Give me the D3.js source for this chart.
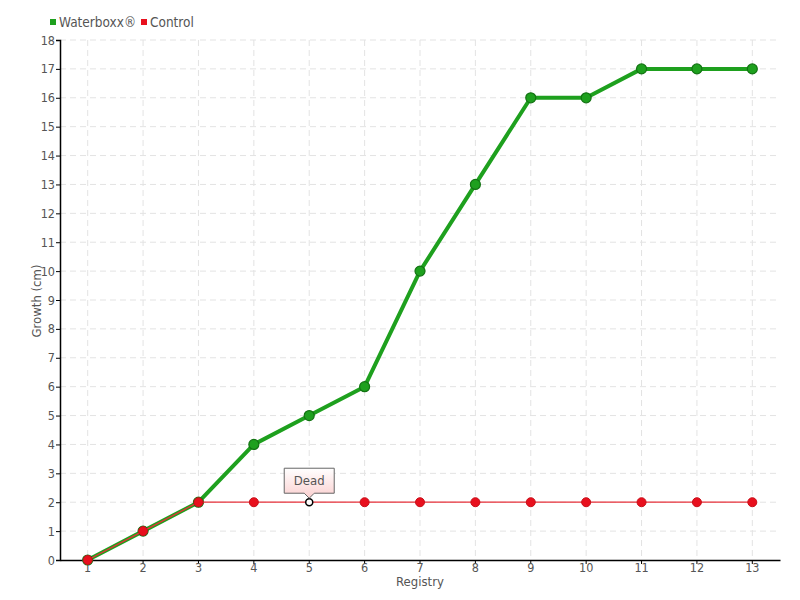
<!DOCTYPE html>
<html><head><meta charset="utf-8">
<script src="https://cdn.jsdelivr.net/npm/d3@7"></script>
<style>
body{margin:0;background:#fff;}
text{font-family:"DejaVu Sans Condensed","DejaVu Sans",sans-serif;fill:#555;}
</style></head>
<body><svg id="c" width="800" height="600"></svg>
<script>
const categories = ["1","2","3","4","5","6","7","8","9","10","11","12","13"];
const waterboxx = [0,1,2,4,5,6,10,13,16,16,17,17,17];
const control = [0,1,2,2,2,2,2,2,2,2,2,2,2];
const yTicks = d3.range(0,19);
const seriesNames = ["Waterboxx®","Control"];
const annotationIndex = 4;
const annotationText = "Dead";

const FF = "'DejaVu Sans Condensed','DejaVu Sans',sans-serif";
const svg = d3.select("#c");
const L=60,R=780,T=40,B=560;
const x = d3.scaleBand().domain(categories).range([L,R]);
const cx = d => x(d)+x.bandwidth()/2;
const y = d3.scaleLinear().domain([0,18]).range([B,T]);

// grid
svg.append("g").selectAll("line").data(yTicks.slice(1)).join("line")
 .attr("x1",L).attr("x2",R).attr("y1",d=>y(d)).attr("y2",d=>y(d))
 .attr("stroke","#e3e3e3").attr("stroke-dasharray","6,4");
svg.append("g").selectAll("line").data(categories).join("line")
 .attr("x1",d=>cx(d)).attr("x2",d=>cx(d)).attr("y1",T).attr("y2",B)
 .attr("stroke","#e3e3e3").attr("stroke-dasharray","6,4");

// axes
const yAxis = svg.append("g").attr("transform",`translate(${L},0)`)
 .call(d3.axisLeft(y).tickValues(yTicks).tickSize(4).tickFormat(d3.format("d")));
yAxis.select(".domain").attr("stroke","#000").attr("stroke-width",1.5);
yAxis.selectAll(".tick line").attr("stroke","#000");
yAxis.selectAll(".tick text").attr("font-size",12.5).attr("fill","#555").attr("x",-5)
 .style("font-family",FF);
const xAxis = svg.append("g").attr("transform",`translate(0,${B})`)
 .call(d3.axisBottom(x).tickSize(4).tickSizeOuter(0));
xAxis.select(".domain").attr("stroke","#000").attr("stroke-width",1.5);
xAxis.selectAll(".tick line").attr("stroke","#000");
xAxis.selectAll(".tick text").attr("font-size",12.5).attr("fill","#555").attr("y",3)
 .style("font-family",FF);

// titles
svg.append("text").attr("x",(L+R)/2).attr("y",586).attr("text-anchor","middle")
 .attr("font-size",13).text("Registry");
svg.append("text").attr("transform",`translate(41,${(T+B)/2 + 1}) rotate(-90)`)
 .attr("text-anchor","middle").attr("font-size",13).text("Growth (cm)");

// lines
const line = d3.line().x((d,i)=>cx(categories[i])).y(d=>y(d));
svg.append("path").datum(waterboxx).attr("d",line).attr("fill","none")
 .attr("stroke","#1ea01e").attr("stroke-width",4).attr("stroke-linejoin","round");
svg.append("g").selectAll("circle").data(waterboxx).join("circle")
 .attr("cx",(d,i)=>cx(categories[i])).attr("cy",d=>y(d)).attr("r",5)
 .attr("fill","#1ea01e").attr("stroke","#137313").attr("stroke-width",1.2);
svg.append("path").datum(control).attr("d",line).attr("fill","none")
 .attr("stroke","#e8303a").attr("stroke-width",1.3);
svg.append("g").selectAll("circle").data(control).join("circle")
 .attr("cx",(d,i)=>cx(categories[i])).attr("cy",d=>y(d)).attr("r",(d,i)=>i===annotationIndex?3.5:4.5)
 .attr("fill",(d,i)=>i===annotationIndex?"#fff":"#e8101e")
 .attr("stroke",(d,i)=>i===annotationIndex?"#000":"#c8101a").attr("stroke-width",(d,i)=>i===annotationIndex?1.5:1);

// annotation
const ax = cx(categories[annotationIndex]), ay = y(control[annotationIndex]);
const defs = svg.append("defs");
const gr = defs.append("linearGradient").attr("id","tg").attr("x1",0).attr("x2",0).attr("y1",0).attr("y2",1);
gr.append("stop").attr("offset","0%").attr("stop-color","#ffffff");
gr.append("stop").attr("offset","100%").attr("stop-color","#fbd0d0");
const bw=50,bh=25,by=ay-34;
svg.append("path")
 .attr("d",`M${ax-bw/2},${by} h${bw} v${bh} h${-(bw/2-5)} l-5,5 l-5,-5 h${-(bw/2-5)} Z`)
 .attr("fill","url(#tg)").attr("stroke","#666").attr("stroke-width",1);
svg.append("text").attr("x",ax).attr("y",by+17).attr("text-anchor","middle")
 .attr("font-size",13).attr("fill","#444").text(annotationText);

// legend
const lg = svg.append("g");
const colors = ["#1ea01e","#e8101e"];
const lx=[50,141];
seriesNames.forEach((n,i)=>{
  lg.append("rect").attr("x",lx[i]).attr("y",19).attr("width",6).attr("height",6).attr("fill",colors[i]);
  lg.append("text").attr("x",lx[i]+9).attr("y",27).attr("font-size",13.5).text(n);
});
</script></body></html>
